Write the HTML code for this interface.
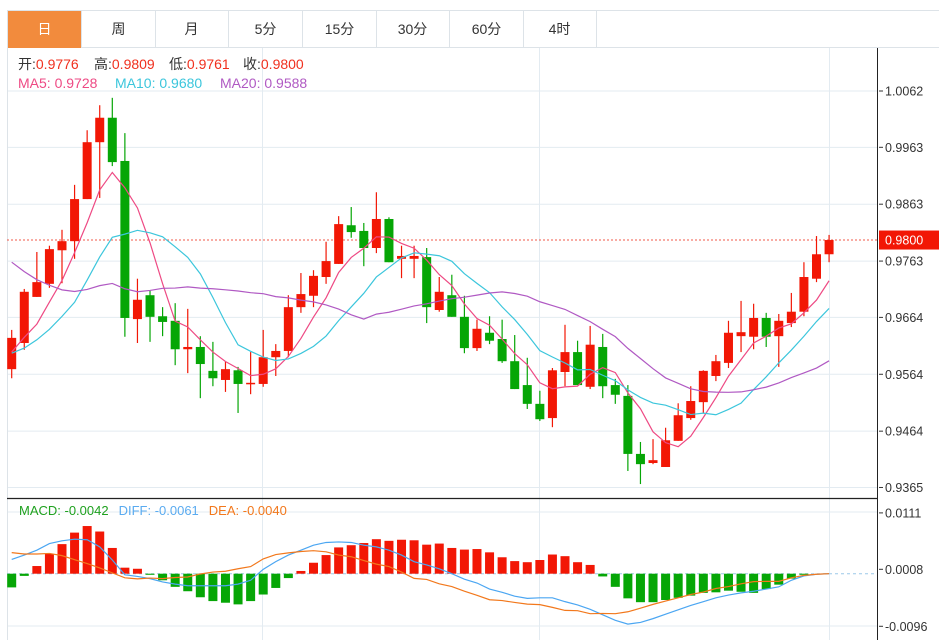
<!DOCTYPE html>
<html><head><meta charset="utf-8">
<style>
html,body{margin:0;padding:0;background:#fff;}
body{width:939px;height:640px;overflow:hidden;position:relative;font-family:"Liberation Sans","Noto Sans CJK SC",sans-serif;}
.tabs{position:absolute;left:7px;top:10px;height:38px;width:932px;border-top:1px solid #dde3e8;border-bottom:1px solid #dde3e8;border-left:1px solid #dde3e8;box-sizing:border-box;}
.tab{position:absolute;top:0;height:37px;width:74px;line-height:37px;text-align:center;font-size:14px;color:#333;border-right:1px solid #dde3e8;box-sizing:border-box;}
.tab.on{background:#f28b3d;color:#fff;}
svg{position:absolute;left:0;top:0;}
</style></head><body>
<div class="tabs">
<div class="tab on" style="left:0">日</div>
<div class="tab" style="left:74px">周</div>
<div class="tab" style="left:147px">月</div>
<div class="tab" style="left:221px">5分</div>
<div class="tab" style="left:295px">15分</div>
<div class="tab" style="left:368px">30分</div>
<div class="tab" style="left:442px">60分</div>
<div class="tab" style="left:515px">4时</div>
</div>
<svg id="chart" width="939" height="640"></svg>
<script>
const opens=[.9573,.9619,.9700,.9723,.9782,.9798,.9872,.9972,1.0015,.9939,.9661,.9703,.9666,.9658,.9608,.9612,.9570,.9554,.9571,.9547,.9547,.9594,.9605,.9682,.9702,.9735,.9758,.9826,.9816,.9786,.9837,.9767,.9767,.9770,.9677,.9703,.9665,.9610,.9637,.9626,.9587,.9545,.9512,.9487,.9568,.9603,.9542,.9612,.9545,.9526,.9424,.9408,.9401,.9447,.9487,.9515,.9561,.9584,.9631,.9630,.9663,.9631,.9654,.9674,.9732,.9775];
const highs=[.9642,.9714,.9779,.9790,.9818,.9897,.9993,1.0037,1.0050,.9988,.9732,.9712,.9682,.9689,.9679,.9631,.9621,.9586,.9577,.9603,.9642,.9617,.9703,.9742,.9747,.9797,.9842,.9858,.9830,.9884,.9840,.9790,.9790,.9786,.9735,.9739,.9702,.9660,.9666,.9660,.9633,.9593,.9535,.9575,.9651,.9623,.9649,.9635,.9556,.9545,.9445,.9450,.9470,.9513,.9543,.9571,.9598,.9658,.9693,.9688,.9672,.9670,.9707,.9761,.9807,.9809];
const lows=[.9557,.9607,.9700,.9716,.9724,.9767,.9872,.9874,.9930,.9630,.9619,.9621,.9631,.9580,.9566,.9522,.9543,.9533,.9496,.9529,.9542,.9561,.9594,.9672,.9682,.9723,.9758,.9804,.9754,.9777,.9761,.9733,.9733,.9654,.9674,.9665,.9601,.9605,.9617,.9584,.9538,.9503,.9482,.9471,.9543,.9545,.9538,.9522,.9512,.9394,.9371,.9406,.9401,.9447,.9484,.9496,.9552,.9575,.9603,.9608,.9612,.9577,.9647,.9666,.9726,.9761];
const closes=[.9628,.9709,.9726,.9784,.9798,.9872,.9972,1.0015,.9937,.9663,.9695,.9665,.9656,.9608,.9612,.9582,.9557,.9573,.9547,.9549,.9594,.9605,.9682,.9705,.9737,.9763,.9828,.9814,.9786,.9837,.9761,.9772,.9772,.9682,.9709,.9665,.9610,.9644,.9623,.9587,.9538,.9512,.9485,.9571,.9603,.9545,.9616,.9543,.9528,.9424,.9406,.9413,.9448,.9492,.9517,.9570,.9587,.9637,.9638,.9663,.9630,.9658,.9674,.9735,.9775,.9800];
const priorCloses=[1.004,1.001,.998,.996,.993,.990,.988,.986,.985,.980,.962,.958,.960,.957,.9625,.958,.961,.959,.9608];
const macdBars=[-.0025,-.0004,.0014,.0036,.0054,.0075,.0087,.0077,.0047,.0011,.0009,-.0002,-.0012,-.0024,-.0032,-.0043,-.0050,-.0053,-.0056,-.0050,-.0038,-.0026,-.0008,.0005,.0020,.0034,.0048,.0052,.0056,.0063,.0060,.0062,.0061,.0053,.0055,.0047,.0044,.0045,.0039,.0030,.0023,.0021,.0025,.0035,.0032,.0021,.0016,-.0005,-.0024,-.0045,-.0052,-.0052,-.0048,-.0044,-.0040,-.0035,-.0034,-.0031,-.0033,-.0035,-.0028,-.0020,-.0009,-.0002,0,0];
const diffVals=[.0026,.0034,.0043,.0055,.0060,.0063,.0062,.0049,.0025,-.0002,-.0005,-.0009,-.0015,-.0019,-.0022,-.0022,-.0022,-.0022,-.0019,-.0012,.0008,.0022,.0034,.0043,.0052,.0057,.0058,.0057,.0052,.0049,.0043,.0034,.0022,.0016,.0009,0,-.0010,-.0017,-.0028,-.0034,-.0041,-.0045,-.0044,-.0044,-.0051,-.0057,-.0065,-.0075,-.0085,-.0092,-.0089,-.0082,-.0074,-.0066,-.0058,-.0051,-.0044,-.0039,-.0035,-.0032,-.0028,-.0024,-.0012,-.0004,-.0001,0];
const priceTicks=[1.0062,.9963,.9863,.9763,.9664,.9564,.9464,.9365];
const macdTicks=[.0111,.0008,-.0096];
const lastPrice=.9800;

const NS="http://www.w3.org/2000/svg";
const svg=document.getElementById('chart');
const RED="#f21705",GREEN="#06a606";
const xOf=i=>11.7+i*12.575;
const yP=p=>91+(1.0062-p)/0.0001758;
const yM=v=>573.7-v*5478;
function mk(tag,attrs,parent){const e=document.createElementNS(NS,tag);for(const k in attrs)e.setAttribute(k,attrs[k]);(parent||svg).appendChild(e);return e;}

const grid=mk('g',{});


priceTicks.forEach(t=>mk('line',{x1:7,x2:877,y1:yP(t),y2:yP(t),stroke:'#e3ebf1','stroke-width':1},grid));
[512,626].forEach(y=>mk('line',{x1:7,x2:877,y1:y,y2:y,stroke:'#e3ebf1','stroke-width':1},grid));
[262.5,539.5,829.5].forEach(x=>mk('line',{x1:x,x2:x,y1:48,y2:640,stroke:'#e3ebf1','stroke-width':1},grid));
mk('line',{x1:7.5,x2:7.5,y1:48,y2:640,stroke:'#dde3e8'},grid);
mk('line',{x1:7,x2:877,y1:498.5,y2:498.5,stroke:'#222','stroke-width':1.2},grid);
mk('line',{x1:877.5,x2:877.5,y1:48,y2:640,stroke:'#222','stroke-width':1},grid);
mk('line',{x1:7,x2:877,y1:yM(0),y2:yM(0),stroke:'#9cc8e8','stroke-dasharray':'3,3'},grid);

priceTicks.forEach(t=>{
 mk('line',{x1:879,x2:883,y1:yP(t),y2:yP(t),stroke:'#333'});
 const tx=mk('text',{x:885,y:yP(t)+4.5,'font-size':12.5,fill:'#333'});
 
 
 tx.textContent=t.toFixed(4);
});
macdTicks.forEach(t=>{
 const y=t===.0008?569.3:yM(t);
 mk('line',{x1:879,x2:883,y1:y,y2:y,stroke:'#333'});
 const tx=mk('text',{x:885,y:y+4.5,'font-size':12.5,fill:'#333'});
 
 
 tx.textContent=t.toFixed(4);
});

mk('line',{x1:7,x2:877,y1:yP(lastPrice),y2:yP(lastPrice),stroke:'#f05a4a','stroke-dasharray':'2,2'});
const lb=mk('rect',{x:879,y:yP(lastPrice)-9.5,width:60,height:19,fill:RED});


const lt=mk('text',{x:885,y:yP(lastPrice)+4.5,'font-size':12.5,fill:'#fff'});


lt.textContent=lastPrice.toFixed(4);

closes.forEach((c,i)=>{
 const o=opens[i],up=c>=o,col=up?RED:GREEN,x=xOf(i);
 const g=mk('g',{});
 
 
 mk('line',{x1:x,x2:x,y1:yP(highs[i]),y2:yP(lows[i]),stroke:col,'stroke-width':1.2},g);
 const top=yP(Math.max(o,c)),bot=yP(Math.min(o,c));
 mk('rect',{x:x-4.5,y:top,width:9,height:Math.max(1.5,bot-top),fill:col},g);
});

const all=priorCloses.concat(closes);
function ma(n){return closes.map((_,i)=>{const k=i+priorCloses.length;let s=0;for(let j=k-n+1;j<=k;j++)s+=all[j];return s/n;});}
[[5,'#ee4a84','ma5-line'],[10,'#3cc6dc','ma10-line'],[20,'#b059c3','ma20-line']].forEach(([n,col,name])=>{
 const v=ma(n);
 const p=mk('polyline',{points:v.map((m,i)=>xOf(i)+','+yP(m)).join(' '),fill:'none',stroke:col,'stroke-width':1.2});
 
 
});

macdBars.forEach((v,i)=>{
 if(v===0)return;
 const y0=yM(0),y1=yM(v);
 const r=mk('rect',{x:xOf(i)-4.5,y:Math.min(y0,y1),width:9,height:Math.abs(y1-y0),fill:v>0?RED:GREEN});
 
 
});
const deaVals=diffVals.map((d,i)=>d-macdBars[i]/2);
const dl=mk('polyline',{points:diffVals.map((d,i)=>xOf(i)+','+yM(d)).join(' '),fill:'none',stroke:'#4ba6f2','stroke-width':1.2});


const el=mk('polyline',{points:deaVals.map((d,i)=>xOf(i)+','+yM(d)).join(' '),fill:'none',stroke:'#f2781c','stroke-width':1.2});


</script>
<svg width="939" height="640" style="pointer-events:none">
<g font-size="14" font-family="Liberation Sans, Noto Sans CJK SC, sans-serif">
<g>
<text x="18" y="69"><tspan fill="#333">开:</tspan><tspan fill="#f0301e">0.9776</tspan></text>
<text x="94" y="69"><tspan fill="#333">高:</tspan><tspan fill="#f0301e">0.9809</tspan></text>
<text x="169" y="69"><tspan fill="#333">低:</tspan><tspan fill="#f0301e">0.9761</tspan></text>
<text x="243" y="69"><tspan fill="#333">收:</tspan><tspan fill="#f0301e">0.9800</tspan></text>
</g>
<g>
<text x="18" y="88" fill="#ee4a84">MA5: 0.9728</text>
<text x="115" y="88" fill="#3cc6dc">MA10: 0.9680</text>
<text x="220" y="88" fill="#b059c3">MA20: 0.9588</text>
</g>
<text x="19" y="515" font-size="13"><tspan fill="#1fa11f">MACD: -0.0042</tspan><tspan fill="#5aabf0" dx="10">DIFF: -0.0061</tspan><tspan fill="#f2781c" dx="10">DEA: -0.0040</tspan></text>
</g>
</svg>
</body></html>
